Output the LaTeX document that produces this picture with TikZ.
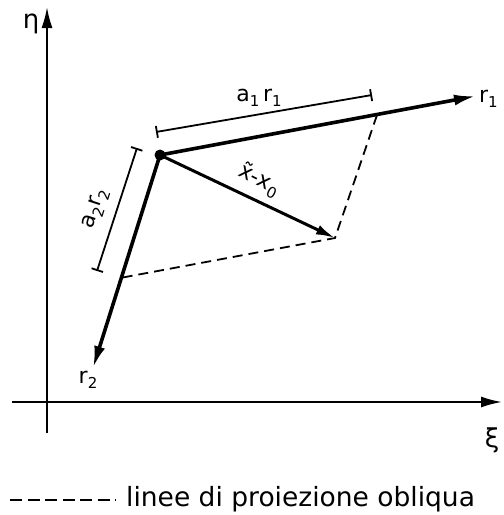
\documentclass[tikz,border=0pt]{standalone}
\usepackage{fontspec}
\setmainfont{DejaVu Sans}
\usetikzlibrary{arrows.meta}
\newcommand{\lowsub}[1]{\raisebox{-0.45ex}{\fontsize{15}{16}\selectfont #1}}
\begin{document}
\begin{tikzpicture}[x=1pt,y=-1pt,
  axisline/.style={line width=2pt,-{Latex[length=21pt,width=11pt]}},
  vecline/.style={line width=3.6pt,-{Latex[length=22pt,width=11pt]}},
  diffline/.style={line width=3pt,-{Latex[length=19pt,width=10pt]}},
  dimline/.style={line width=1.8pt,{Bar[width=12pt,line width=1.8pt]}-{Bar[width=12pt,line width=1.8pt]}},
  projline/.style={line width=1.8pt,dash pattern=on 10pt off 6pt},
  lbl/.style={inner sep=0pt,font=\fontsize{22}{24}\selectfont},
  axlbl/.style={inner sep=0pt,font=\fontsize{26}{28}\selectfont},
  dotnode/.style={circle,fill=black,inner sep=0pt,minimum size=11pt}]
\useasboundingbox (0,0) rectangle (504,515);
% axes
\coordinate (Ybot) at (47,433);
\coordinate (Ytop) at (47,7);
\coordinate (Xleft) at (12,402);
\coordinate (Xright) at (502,402);
\draw[axisline] (Ybot) -- (Ytop);
\draw[axisline] (Xleft) -- (Xright);
\node[axlbl] (eta) at (31,24) {η};
\node[axlbl] (xi) at (492,440) {ξ};
% points
\node[dotnode] (P) at (160,155) {};
\coordinate (R1) at (476,96);
\coordinate (R2) at (93,368);
\coordinate (Q) at (335,238);
\coordinate (C1) at (377,115);
\coordinate (C2) at (120,278);
% projection lines
\draw[projline] (C1) -- (Q) -- (C2);
% vectors
\draw[vecline] (P.center) -- (R1);
\draw[vecline] (P.center) -- (R2);
\draw[diffline] (P.center) -- (Q);
\node[lbl,anchor=west] (r1) at (479,99) {r\lowsub{1}};
\node[lbl] (r2) at (88,380) {r\lowsub{2}};
\node[lbl,rotate=-27] (dx) at (259,180) {\~{x}-x\lowsub{0}};
% dimension lines
\coordinate (D1a) at (156,132);
\coordinate (D1b) at (372,95);
\coordinate (D2a) at (137,148);
\coordinate (D2b) at (97,271);
\draw[dimline] (D1a) -- (D1b);
\draw[dimline] (D2a) -- (D2b);
\node[lbl] (a1r1) at (259,98) {a\lowsub{1}\,r\lowsub{1}};
\node[lbl,rotate=72] (a2r2) at (96,209) {a\lowsub{2}r\lowsub{2}};
% legend
\coordinate (La) at (10,500);
\coordinate (Lb) at (116,500);
\draw[line width=1.8pt,dash pattern=on 12pt off 5.5pt] (La) -- (Lb);
\node[anchor=west,inner sep=0pt,font=\fontsize{26.5}{28}\selectfont] (legend) at (126,499) {linee di proiezione obliqua};
\end{tikzpicture}
\end{document}
